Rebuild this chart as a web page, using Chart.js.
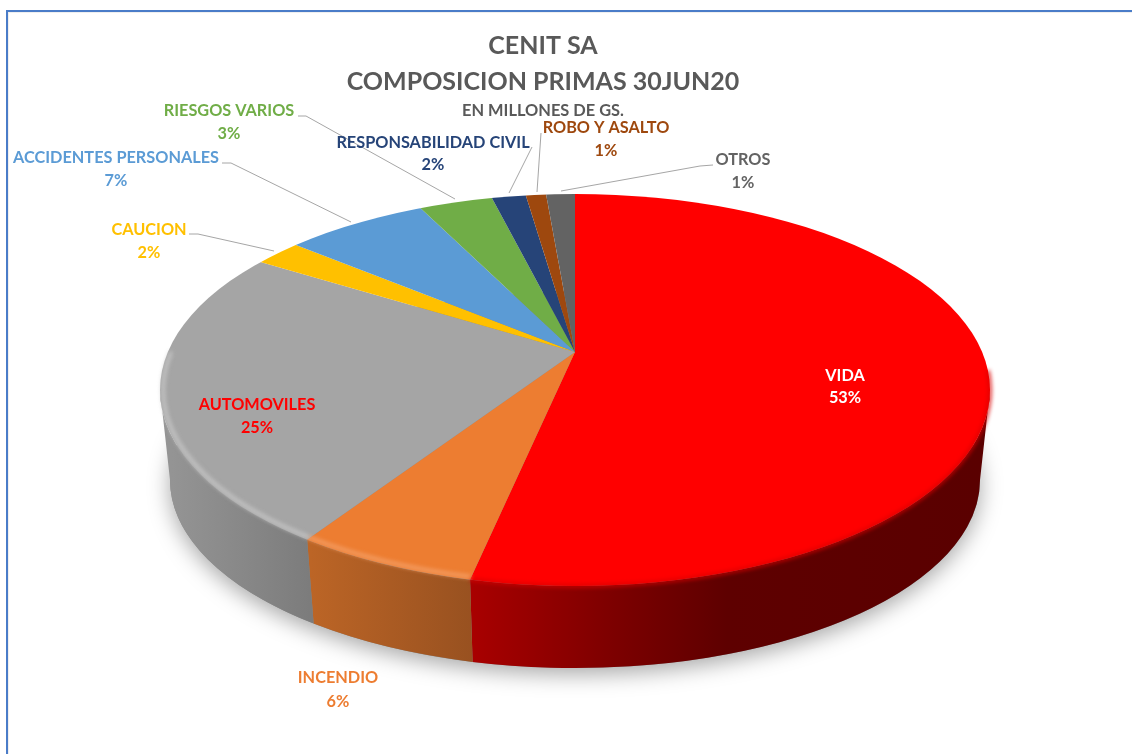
<!DOCTYPE html>
<html>
<head>
<meta charset="utf-8">
<title>CENIT SA</title>
<script src="https://cdn.jsdelivr.net/npm/chart.js@4"></script>
<style>
    html, body { margin: 0; padding: 0; background: #fff; }
    canvas { display: block; }
</style>
</head>
<body>
<canvas id="chart" width="1132" height="754"></canvas>
<script>
const categories = ['VIDA', 'INCENDIO', 'AUTOMOVILES', 'CAUCION', 'ACCIDENTES PERSONALES', 'RIESGOS VARIOS', 'RESPONSABILIDAD CIVIL', 'ROBO Y ASALTO', 'OTROS'];
const shares = [53.35, 5.95, 24.5, 2.2, 6.65, 3.45, 1.6, 0.95, 1.35];
const titleLines = ['CENIT SA', 'COMPOSICION PRIMAS 30JUN20'];
const subtitle = 'EN MILLONES DE GS.';

const faceColors = ['#ff0000', '#ed7d31', '#a5a5a5', '#ffc000', '#5b9bd5', '#70ad47', '#264478', '#9e480e', '#636363'];
const labelColors = ['#ffffff', '#ed7d31', '#ff0000', '#ffc000', '#5b9bd5', '#70ad47', '#264478', '#9e480e', '#636363'];

// label centre x, first line y, second line y
const labelSpots = [
    [845, 376, 398], [338, 678, 702], [257, 405, 428], [149, 230, 253], [116, 158, 181],
    [229, 111, 134], [433, 143, 165], [606, 128, 151], [743, 160, 183]
];
// leader lines, null where the label sits on the slice
const leaders = [
    null, null, null,
    [[189, 234], [198, 234], [274, 251]],
    [[222, 163], [231, 163], [351, 222]],
    [[298, 116], [306, 116], [455, 199]],
    [[532, 147], [509, 193]],
    [[541, 133], [537, 192]],
    [[713, 165], [700, 166], [561, 191]]
];

// pie seen in perspective: top face and bottom edge are ellipses, apex is off their centre
const apex = {x: 575, y: 352};
const top3d = {x: 575, y: 390, rx: 415, ry: 196};
const bottom3d = {x: 575, y: 480, rx: 405, ry: 188};
const squash = 0.4635;
const grow = 1.5;

const sideStops = [
    [[0, '#5a0000'], [0.5, '#5e0000'], [0.72, '#7c0000'], [1, '#a80000']],
    [[0, '#985120'], [1, '#bc6526']],
    [[0, '#7c7c7c'], [1, '#949494']]
];
const rimColors = ['#d80000', '#f4a068', '#c6c6c6'];

function rimAngle(angle) {
    let dx = Math.cos(angle), dy = squash * Math.sin(angle);
    let ox = (apex.x - top3d.x) / top3d.rx, oy = (apex.y - top3d.y) / top3d.ry;
    let ux = dx / top3d.rx, uy = dy / top3d.ry;
    let a = ux * ux + uy * uy, b = 2 * (ox * ux + oy * uy), c = ox * ox + oy * oy - 1;
    let s = (-b + Math.sqrt(b * b - 4 * a * c)) / (2 * a);
    return Math.atan2(oy + s * uy, ox + s * ux);
}

function sideSlices(chart) {
    let arcs = chart.getDatasetMeta(0).data;
    let redEnd = rimAngle(arcs[0].endAngle);
    let orangeEnd = rimAngle(arcs[1].endAngle);
    return [
        {from: 0, to: redEnd, x0: 980, x1: 473},
        {from: redEnd, to: orangeEnd, x0: 473, x1: 310},
        {from: orangeEnd, to: Math.PI, x0: 310, x1: 172}
    ];
}

const pie3d = {
    id: 'pie3d',
    beforeDraw(chart) {
        let ctx = chart.ctx;
        ctx.save();
        ctx.fillStyle = '#ffffff';
        ctx.fillRect(0, 0, 1132, 754);
        ctx.fillStyle = '#efefef';
        ctx.fillRect(8, 12, 1124, 1);
        ctx.fillRect(8, 12, 1, 742);
        ctx.fillStyle = '#4a7cc8';
        ctx.fillRect(6, 10, 1126, 2);
        ctx.fillRect(6, 10, 2, 744);
        ctx.restore();
    },
    beforeDatasetsDraw(chart) {
        let ctx = chart.ctx;
        let el = chart.getDatasetMeta(0).data[0];

        // soft shadow under the drum
        ctx.save();
        ctx.shadowColor = 'rgba(0,0,0,0.35)';
        ctx.shadowBlur = 22;
        ctx.shadowOffsetY = 6;
        ctx.fillStyle = '#888';
        ctx.beginPath();
        ctx.ellipse(bottom3d.x, bottom3d.y, bottom3d.rx, bottom3d.ry, 0, 0, Math.PI * 2);
        ctx.fill();
        ctx.restore();

        // side wall
        sideSlices(chart).forEach((part, i) => {
            let grad = ctx.createLinearGradient(part.x0, 0, part.x1, 0);
            sideStops[i].forEach(stop => grad.addColorStop(stop[0], stop[1]));
            ctx.fillStyle = grad;
            ctx.beginPath();
            ctx.ellipse(top3d.x, top3d.y, top3d.rx, top3d.ry, 0, part.from, part.to);
            ctx.ellipse(bottom3d.x, bottom3d.y, bottom3d.rx, bottom3d.ry, 0, part.to, part.from, true);
            ctx.closePath();
            ctx.fill();
        });

        // top face: library arcs, squashed about the apex and cut by the rim
        ctx.save();
        ctx.beginPath();
        ctx.ellipse(top3d.x, top3d.y, top3d.rx, top3d.ry, 0, 0, Math.PI * 2);
        ctx.clip();
        ctx.translate(apex.x, apex.y);
        ctx.scale(grow, grow * squash);
        ctx.translate(-el.x, -el.y);
    },
    afterDatasetsDraw(chart) {
        let ctx = chart.ctx;
        ctx.restore();

        // bevel along the visible rim
        let parts = sideSlices(chart);
        parts[0].from = -0.1;
        parts[2].to = Math.PI + 0.2;
        parts.forEach((part, i) => {
            ctx.save();
            ctx.filter = 'blur(2px)';
            ctx.strokeStyle = rimColors[i];
            ctx.lineWidth = i === 0 ? 3 : 3.5;
            let inset = i === 0 ? 0 : 3;
            ctx.beginPath();
            ctx.ellipse(top3d.x, top3d.y, top3d.rx - inset, top3d.ry - inset, 0, part.from, part.to);
            ctx.stroke();
            ctx.restore();
        });
    },
    afterDraw(chart) {
        let ctx = chart.ctx;
        ctx.save();

        ctx.strokeStyle = '#a6a6a6';
        ctx.lineWidth = 1;
        leaders.forEach(line => {
            if (!line) return;
            ctx.beginPath();
            line.forEach((p, i) => i ? ctx.lineTo(p[0], p[1]) : ctx.moveTo(p[0], p[1]));
            ctx.stroke();
        });

        ctx.textAlign = 'center';
        ctx.textBaseline = 'middle';

        ctx.fillStyle = '#595959';
        ctx.font = 'bold 25px Lato';
        ctx.fillText(titleLines[0], 543, 46);
        ctx.fillText(titleLines[1], 543, 82);
        ctx.font = 'bold 16.4px Lato';
        ctx.fillText(subtitle, 543, 111);

        ctx.font = 'bold 16.3px Lato';
        categories.forEach((name, i) => {
            let spot = labelSpots[i];
            ctx.fillStyle = labelColors[i];
            ctx.fillText(name, spot[0], spot[1]);
            ctx.fillText(Math.round(shares[i]) + '%', spot[0], spot[2]);
        });

        ctx.restore();
    }
};

new Chart('chart', {
    type: 'pie',
    data: {
        labels: categories,
        datasets: [{
            data: shares,
            backgroundColor: faceColors,
            borderWidth: 0,
            clip: false
        }]
    },
    options: {
        responsive: false,
        animation: false,
        events: [],
        plugins: {
            legend: {display: false},
            tooltip: {enabled: false}
        }
    },
    plugins: [pie3d]
});
</script>
</body>
</html>
